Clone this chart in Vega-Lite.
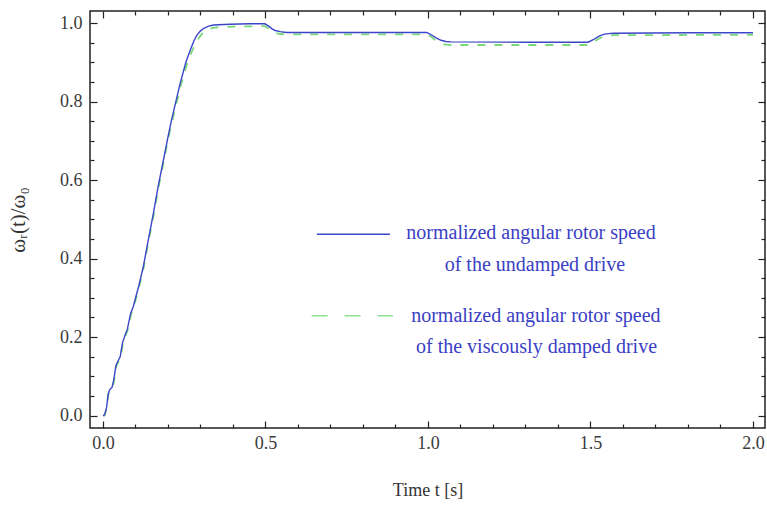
{
  "$schema": "https://vega.github.io/schema/vega-lite/v6.json",
  "width": 675,
  "height": 417,
  "autosize": "none",
  "padding": {"left": 90, "top": 11, "right": 2, "bottom": 78},
  "background": "white",
  "config": {
    "view": {"stroke": "#222222", "strokeWidth": 1.5},
    "axis": {
      "grid": false,
      "domain": false,
      "labelFont": "Liberation Serif",
      "labelFontSize": 18,
      "labelColor": "#3a3a3a",
      "titleFont": "Liberation Serif",
      "titleFontSize": 18,
      "titleFontWeight": "normal",
      "titleColor": "#333333",
      "tickColor": "#222222",
      "tickWidth": 1.2
    }
  },
  "datasets": {
    "undamped": [
      {"t": 0.0, "w": 0.0}, {"t": 0.005, "w": 0.002}, {"t": 0.011, "w": 0.02}, {"t": 0.016, "w": 0.055},
      {"t": 0.02, "w": 0.065}, {"t": 0.028, "w": 0.072}, {"t": 0.033, "w": 0.09}, {"t": 0.04, "w": 0.128},
      {"t": 0.047, "w": 0.14}, {"t": 0.053, "w": 0.15}, {"t": 0.06, "w": 0.185}, {"t": 0.068, "w": 0.205},
      {"t": 0.075, "w": 0.22}, {"t": 0.085, "w": 0.26}, {"t": 0.093, "w": 0.277}, {"t": 0.11, "w": 0.33},
      {"t": 0.124, "w": 0.379}, {"t": 0.14, "w": 0.45}, {"t": 0.155, "w": 0.515}, {"t": 0.17, "w": 0.585},
      {"t": 0.186, "w": 0.651}, {"t": 0.2, "w": 0.71}, {"t": 0.211, "w": 0.753}, {"t": 0.237, "w": 0.845},
      {"t": 0.255, "w": 0.9}, {"t": 0.268, "w": 0.93}, {"t": 0.28, "w": 0.955}, {"t": 0.288, "w": 0.968},
      {"t": 0.3, "w": 0.98}, {"t": 0.309, "w": 0.986}, {"t": 0.325, "w": 0.992}, {"t": 0.34, "w": 0.995},
      {"t": 0.39, "w": 0.997}, {"t": 0.45, "w": 0.998}, {"t": 0.498, "w": 0.998}, {"t": 0.51, "w": 0.992},
      {"t": 0.52, "w": 0.985}, {"t": 0.53, "w": 0.981}, {"t": 0.545, "w": 0.978}, {"t": 0.565, "w": 0.976},
      {"t": 0.75, "w": 0.976}, {"t": 0.996, "w": 0.976}, {"t": 1.01, "w": 0.97}, {"t": 1.025, "w": 0.962},
      {"t": 1.04, "w": 0.956}, {"t": 1.055, "w": 0.953}, {"t": 1.07, "w": 0.952}, {"t": 1.3, "w": 0.951},
      {"t": 1.493, "w": 0.951}, {"t": 1.51, "w": 0.958}, {"t": 1.525, "w": 0.966}, {"t": 1.54, "w": 0.971},
      {"t": 1.555, "w": 0.973}, {"t": 1.57, "w": 0.974}, {"t": 1.8, "w": 0.975}, {"t": 2.0, "w": 0.975}
    ],
    "damped": [
      {"t": 0.0, "w": 0.0}, {"t": 0.005, "w": 0.0}, {"t": 0.011, "w": 0.018}, {"t": 0.016, "w": 0.052},
      {"t": 0.021, "w": 0.064}, {"t": 0.029, "w": 0.07}, {"t": 0.034, "w": 0.088}, {"t": 0.041, "w": 0.125},
      {"t": 0.048, "w": 0.138}, {"t": 0.054, "w": 0.148}, {"t": 0.061, "w": 0.182}, {"t": 0.069, "w": 0.203},
      {"t": 0.076, "w": 0.218}, {"t": 0.086, "w": 0.257}, {"t": 0.094, "w": 0.275}, {"t": 0.111, "w": 0.327},
      {"t": 0.125, "w": 0.376}, {"t": 0.141, "w": 0.447}, {"t": 0.156, "w": 0.512}, {"t": 0.171, "w": 0.582},
      {"t": 0.187, "w": 0.648}, {"t": 0.201, "w": 0.707}, {"t": 0.213, "w": 0.75}, {"t": 0.24, "w": 0.842},
      {"t": 0.258, "w": 0.895}, {"t": 0.272, "w": 0.925}, {"t": 0.285, "w": 0.948}, {"t": 0.295, "w": 0.962},
      {"t": 0.305, "w": 0.973}, {"t": 0.315, "w": 0.98}, {"t": 0.33, "w": 0.986}, {"t": 0.35, "w": 0.989},
      {"t": 0.4, "w": 0.991}, {"t": 0.498, "w": 0.992}, {"t": 0.51, "w": 0.986}, {"t": 0.52, "w": 0.979},
      {"t": 0.53, "w": 0.975}, {"t": 0.545, "w": 0.972}, {"t": 0.565, "w": 0.971}, {"t": 0.996, "w": 0.971},
      {"t": 1.01, "w": 0.965}, {"t": 1.025, "w": 0.955}, {"t": 1.04, "w": 0.948}, {"t": 1.055, "w": 0.945},
      {"t": 1.07, "w": 0.944}, {"t": 1.493, "w": 0.944}, {"t": 1.51, "w": 0.951}, {"t": 1.525, "w": 0.96},
      {"t": 1.54, "w": 0.965}, {"t": 1.555, "w": 0.968}, {"t": 1.57, "w": 0.969}, {"t": 2.0, "w": 0.97}
    ],
    "legendBlueLine": [{"t": 0.658, "t2": 0.883, "w": 0.462}],
    "legendGreenLine": [{"t": 0.642, "t2": 0.892, "w": 0.254}],
    "legendBlueText": [
      {"t": 1.317, "w": 0.464, "label": "normalized angular rotor speed"},
      {"t": 1.329, "w": 0.383, "label": "of the undamped drive"}
    ],
    "legendGreenText": [
      {"t": 1.332, "w": 0.254, "label": "normalized angular rotor speed"},
      {"t": 1.334, "w": 0.175, "label": "of the viscously damped drive"}
    ]
  },
  "layer": [
    {
      "data": {"name": "damped"},
      "mark": {"type": "line", "color": "#7ad97a", "strokeWidth": 1.8, "strokeDash": [8, 9]},
      "encoding": {
        "x": {"field": "t", "type": "quantitative", "scale": {"domain": [-0.04, 2.037], "nice": false, "zero": false},
          "axis": {"orient": "bottom", "values": [0, 0.5, 1, 1.5, 2], "format": ".1f", "ticks": false, "labelPadding": 6, "labelFont": "Liberation Serif", "labelFontSize": 18, "title": "Time t [s]", "titleFont": "Liberation Serif", "titlePadding": 29}},
        "y": {"field": "w", "type": "quantitative", "scale": {"domain": [-0.0318, 1.0306], "nice": false, "zero": false},
          "axis": {"orient": "left", "values": [0, 0.2, 0.4, 0.6, 0.8, 1.0], "format": ".1f", "ticks": false, "labelPadding": 8, "labelFont": "Liberation Serif", "labelFontSize": 18, "title": "ωᵣ(t)/ω₀", "titleFont": "Liberation Serif", "titleFontSize": 21, "titlePadding": 31}}
      }
    },
    {
      "data": {"name": "undamped"},
      "mark": {"type": "line", "color": "#3c46c8", "strokeWidth": 1.4},
      "encoding": {
        "x": {"field": "t", "type": "quantitative", "axis": {"orient": "bottom", "values": [0, 0.5, 1, 1.5, 2], "labels": false, "tickSize": -7, "title": null}},
        "y": {"field": "w", "type": "quantitative", "axis": {"orient": "left", "values": [0, 0.2, 0.4, 0.6, 0.8, 1.0], "labels": false, "tickSize": -7, "title": null}}
      }
    },
    {
      "data": {"name": "legendBlueLine"},
      "mark": {"type": "rule", "color": "#3c46c8", "strokeWidth": 1.4},
      "encoding": {
        "x": {"field": "t", "type": "quantitative", "axis": {"orient": "bottom", "values": [0.1, 0.2, 0.3, 0.4, 0.6, 0.7, 0.8, 0.9, 1.1, 1.2, 1.3, 1.4, 1.6, 1.7, 1.8, 1.9], "labels": false, "tickSize": -4, "title": null}},
        "x2": {"field": "t2"},
        "y": {"field": "w", "type": "quantitative", "axis": {"orient": "left", "values": [0.05, 0.1, 0.15, 0.25, 0.3, 0.35, 0.45, 0.5, 0.55, 0.65, 0.7, 0.75, 0.85, 0.9, 0.95], "labels": false, "tickSize": -4, "title": null}}
      }
    },
    {
      "data": {"name": "legendGreenLine"},
      "mark": {"type": "rule", "color": "#8fe08f", "strokeWidth": 1.4, "strokeDash": [16, 17]},
      "encoding": {
        "x": {"field": "t", "type": "quantitative", "axis": {"orient": "top", "values": [0, 0.5, 1, 1.5, 2], "labels": false, "tickSize": -7, "title": null}},
        "x2": {"field": "t2"},
        "y": {"field": "w", "type": "quantitative", "axis": {"orient": "right", "values": [0, 0.2, 0.4, 0.6, 0.8, 1.0], "labels": false, "tickSize": -7, "title": null}}
      }
    },
    {
      "data": {"name": "legendBlueText"},
      "mark": {"type": "text", "font": "Liberation Serif", "fontSize": 20, "color": "#3a40c4", "align": "center", "baseline": "middle"},
      "encoding": {
        "x": {"field": "t", "type": "quantitative", "axis": {"orient": "top", "values": [0.1, 0.2, 0.3, 0.4, 0.6, 0.7, 0.8, 0.9, 1.1, 1.2, 1.3, 1.4, 1.6, 1.7, 1.8, 1.9], "labels": false, "tickSize": -4, "title": null}},
        "y": {"field": "w", "type": "quantitative", "axis": {"orient": "right", "values": [0.05, 0.1, 0.15, 0.25, 0.3, 0.35, 0.45, 0.5, 0.55, 0.65, 0.7, 0.75, 0.85, 0.9, 0.95], "labels": false, "tickSize": -4, "title": null}},
        "text": {"field": "label"}
      }
    },
    {
      "data": {"name": "legendGreenText"},
      "mark": {"type": "text", "font": "Liberation Serif", "fontSize": 20, "color": "#3a40c4", "align": "center", "baseline": "middle"},
      "encoding": {
        "x": {"field": "t", "type": "quantitative", "axis": null},
        "y": {"field": "w", "type": "quantitative", "axis": null},
        "text": {"field": "label"}
      }
    }
  ],
  "resolve": {"axis": {"x": "independent", "y": "independent"}}
}
